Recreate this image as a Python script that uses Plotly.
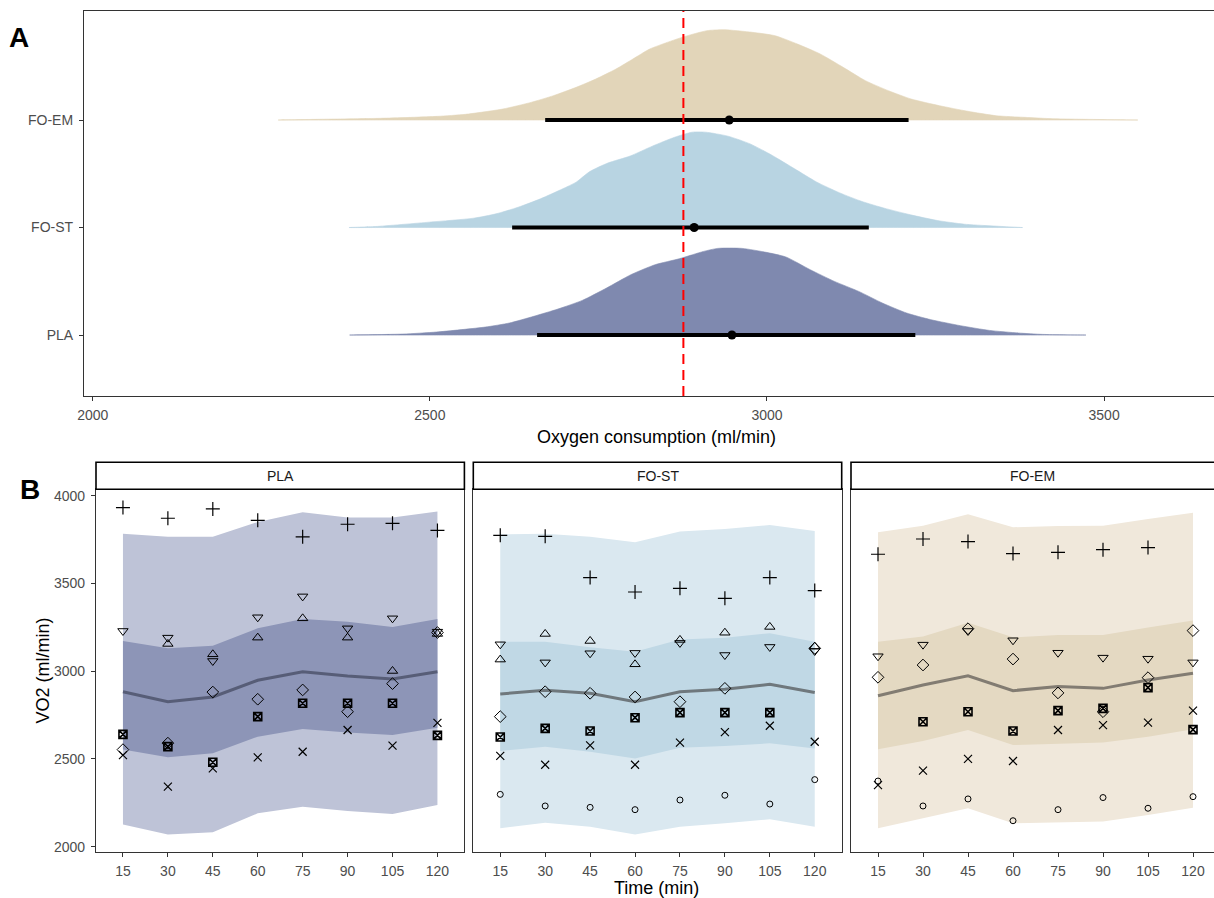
import plotly.graph_objects as go

W, H = 1214, 898

# ---------------- Panel A data (posterior densities) ----------------
groups = ["PLA", "FO-ST", "FO-EM"]
reference_line = 2876

dens_x_pla = [2381, 2460, 2510, 2582, 2618, 2654, 2690, 2726, 2762, 2798, 2834, 2870, 2906, 2927,
              2963, 2999, 3028, 3064, 3100, 3136, 3171, 3207, 3243, 3287, 3330, 3373, 3409, 3473]
dens_h_pla = [0, 0.009, 0.028, 0.074, 0.112, 0.174, 0.242, 0.322, 0.437, 0.561, 0.654, 0.710, 0.778, 0.806,
              0.806, 0.769, 0.726, 0.608, 0.499, 0.406, 0.298, 0.205, 0.143, 0.087, 0.043, 0.019, 0.006, 0]

dens_x_fost = [2380, 2419, 2499, 2565, 2598, 2631, 2664, 2697, 2717, 2737, 2764, 2797, 2830, 2863,
               2889, 2909, 2942, 2975, 3008, 3041, 3074, 3108, 3141, 3174, 3213, 3253, 3293, 3379]
dens_h_fost = [0, 0.009, 0.050, 0.087, 0.127, 0.189, 0.267, 0.360, 0.422, 0.520, 0.600, 0.665, 0.757, 0.840,
               0.887, 0.887, 0.850, 0.778, 0.670, 0.546, 0.422, 0.322, 0.242, 0.180, 0.118, 0.065, 0.031, 0]

dens_x_foem = [2275, 2427, 2511, 2553, 2608, 2650, 2683, 2717, 2746, 2776, 2801, 2826, 2852, 2877, 2911,
               2936, 2978, 3012, 3045, 3079, 3113, 3146, 3180, 3214, 3256, 3298, 3340, 3382, 3424, 3550]
dens_h_foem = [0, 0.016, 0.034, 0.053, 0.102, 0.164, 0.226, 0.304, 0.381, 0.474, 0.567, 0.660, 0.722, 0.775, 0.831,
               0.840, 0.816, 0.784, 0.707, 0.614, 0.490, 0.366, 0.273, 0.195, 0.133, 0.081, 0.040, 0.025, 0.012, 0]

point_est = [2948, 2892, 2944]          # PLA, FO-ST, FO-EM
ci_low = [2659, 2622, 2671]
ci_high = [3220, 3151, 3210]

# ---------------- Panel B data ----------------
times = ["15", "30", "45", "60", "75", "90", "105", "120"]

pla_outer_lo = [2127, 2070, 2082, 2190, 2228, 2203, 2186, 2237]
pla_outer_hi = [3783, 3765, 3765, 3850, 3905, 3875, 3875, 3909]
pla_inner_lo = [2553, 2509, 2532, 2627, 2670, 2651, 2636, 2678]
pla_inner_hi = [3172, 3130, 3145, 3244, 3297, 3282, 3252, 3297]
pla_mean = [2883, 2826, 2853, 2948, 2997, 2972, 2955, 2997]

fost_outer_lo = [2105, 2137, 2114, 2070, 2114, 2133, 2156, 2114]
fost_outer_hi = [3780, 3783, 3766, 3734, 3795, 3810, 3833, 3799]
fost_inner_lo = [2545, 2570, 2541, 2503, 2564, 2574, 2589, 2560]
fost_inner_hi = [3168, 3168, 3136, 3111, 3181, 3191, 3216, 3168]
fost_mean = [2870, 2891, 2874, 2826, 2883, 2897, 2925, 2878]

foem_outer_lo = [2105, 2162, 2219, 2133, 2139, 2143, 2180, 2222]
foem_outer_hi = [3791, 3829, 3894, 3820, 3827, 3829, 3867, 3903]
foem_inner_lo = [2555, 2602, 2665, 2579, 2587, 2593, 2627, 2669]
foem_inner_hi = [3168, 3197, 3276, 3193, 3206, 3206, 3248, 3288]
foem_mean = [2860, 2921, 2974, 2889, 2912, 2902, 2950, 2988]

# individual subjects (one list per subject / marker shape)
pla_plus = [3932, 3871, 3924, 3859, 3765, 3837, 3842, 3802]
pla_tri_down = [3229, 3191, 3058, 3307, 3426, 3244, 3301, 3225]
pla_tri_up = [None, 3155, 3096, 3191, 3301, 3191, 3001, 3212]
pla_diamond = [2553, 2590, 2881, 2840, 2893, 2769, 2929, 3220]
pla_square = [2640, 2570, 2481, 2741, 2817, 2817, 2817, 2634]
pla_cross = [2522, 2342, 2446, 2509, 2541, 2665, 2576, 2705]
pla_circle = [None] * 8

fost_plus = [3774, 3768, 3533, 3451, 3472, 3415, 3533, 3459]
fost_tri_down = [3153, 3050, 3102, 3104, 3161, 3092, 3138, 3115]
fost_tri_up = [3066, 3212, 3172, 3039, 3178, 3219, 3252, 3140]
fost_diamond = [2741, 2883, 2874, 2853, 2826, 2902, None, 3130]
fost_square = [2625, 2674, 2659, 2735, 2764, 2764, 2764, None]
fost_cross = [2517, 2467, 2577, 2467, 2593, 2653, 2689, 2598]
fost_circle = [2298, 2232, 2224, 2211, 2266, 2293, 2243, 2382]

foem_plus = [3666, 3753, 3738, 3670, 3677, 3692, 3704, None]
foem_tri_down = [3085, 3151, 3229, 3176, 3105, 3077, 3071, 3050]
foem_tri_up = [None] * 8
foem_diamond = [2965, 3035, 3242, 3069, 2876, 2769, 2963, 3231]
foem_square = [None, 2712, 2769, 2659, 2775, 2788, 2906, 2667]
foem_cross = [2351, 2433, 2500, 2488, 2665, 2693, 2707, 2775]
foem_circle = [2374, 2232, 2272, 2148, 2211, 2280, 2219, 2285]

# ---------------- styles ----------------
dens_colors = ["#7F89AF", "#B8D4E2", "#E2D5B9"]
outer_colors = ["#BEC3D7", "#DAE8F0", "#F0E8DB"]
inner_colors = ["#8D95B7", "#C0D8E5", "#E4D9C2"]
line_colors = ["#575D77", "#6F787D", "#827C72"]
FONT = "Liberation Sans, Arial, sans-serif"

fig = go.Figure()

# ---------- Panel A ----------
dens_x = [dens_x_pla, dens_x_fost, dens_x_foem]
dens_h = [dens_h_pla, dens_h_fost, dens_h_foem]
for i, g in enumerate(groups):
    xs = dens_x[i]
    ys = [i + h for h in dens_h[i]]
    fig.add_trace(go.Scatter(
        x=xs + xs[::-1], y=ys + [i] * len(xs), fill="toself", mode="lines",
        fillcolor=dens_colors[i], line=dict(color=dens_colors[i], width=0.6, shape="spline", smoothing=0.6),
        hoverinfo="skip", showlegend=False, xaxis="x", yaxis="y"))

for i, g in enumerate(groups):
    fig.add_trace(go.Scatter(
        x=[ci_low[i], ci_high[i]], y=[i, i], mode="lines",
        line=dict(color="black", width=4), showlegend=False, xaxis="x", yaxis="y"))
    fig.add_trace(go.Scatter(
        x=[point_est[i]], y=[i], mode="markers",
        marker=dict(color="black", size=9), showlegend=False, xaxis="x", yaxis="y"))

fig.add_shape(type="line", xref="x", yref="y domain", x0=reference_line, x1=reference_line,
              y0=0, y1=1, line=dict(color="#FF0000", width=2, dash="10px,6px"), layer="above")

# ---------- Panel B ----------
facet = [
    (pla_outer_lo, pla_outer_hi, pla_inner_lo, pla_inner_hi, pla_mean,
     [pla_circle, pla_tri_up, pla_plus, pla_cross, pla_diamond, pla_tri_down, pla_square]),
    (fost_outer_lo, fost_outer_hi, fost_inner_lo, fost_inner_hi, fost_mean,
     [fost_circle, fost_tri_up, fost_plus, fost_cross, fost_diamond, fost_tri_down, fost_square]),
    (foem_outer_lo, foem_outer_hi, foem_inner_lo, foem_inner_hi, foem_mean,
     [foem_circle, foem_tri_up, foem_plus, foem_cross, foem_diamond, foem_tri_down, foem_square]),
]
symbols = ["circle-open", "triangle-up-open", "cross-thin-open", "x-thin-open",
           "diamond-open", "triangle-down-open", "square-x-open"]
sizes = [6, 9, 10, 8, 9, 9, 8]
widths = [1, 1, 1.2, 1.2, 1, 1, 1.6]

for k, (olo, ohi, ilo, ihi, mn, subj) in enumerate(facet):
    xa, ya = "x%d" % (k + 2), "y%d" % (k + 2)
    fig.add_trace(go.Scatter(x=times + times[::-1], y=ohi + olo[::-1], fill="toself", mode="lines",
                             fillcolor=outer_colors[k], line=dict(width=0), hoverinfo="skip",
                             showlegend=False, xaxis=xa, yaxis=ya))
    fig.add_trace(go.Scatter(x=times + times[::-1], y=ihi + ilo[::-1], fill="toself", mode="lines",
                             fillcolor=inner_colors[k], line=dict(width=0), hoverinfo="skip",
                             showlegend=False, xaxis=xa, yaxis=ya))
    fig.add_trace(go.Scatter(x=times, y=mn, mode="lines", line=dict(color=line_colors[k], width=3),
                             showlegend=False, xaxis=xa, yaxis=ya))
    for s, vals in enumerate(subj):
        if all(v is None for v in vals):
            continue
        fig.add_trace(go.Scatter(x=times, y=vals, mode="markers",
                                 marker=dict(symbol=symbols[s], size=sizes[s], color="black",
                                             line=dict(color="black", width=widths[s])),
                                 showlegend=False, xaxis=xa, yaxis=ya))

# ---------- layout ----------
def px(x):
    return x / W


def py(y):
    return 1 - y / H


tickfont = dict(family=FONT, size=14, color="#4D4D4D")


def axis_common(mirror=True):
    return dict(showline=True, linecolor="#333333", linewidth=1.2, mirror=mirror, showgrid=False,
                zeroline=False, ticks="outside", ticklen=4, tickcolor="#333333", tickfont=tickfont,
                automargin=False)


layout = dict(
    width=W, height=H, margin=dict(l=0, r=0, t=0, b=0, autoexpand=False),
    paper_bgcolor="white", plot_bgcolor="white",
    font=dict(family=FONT),
    xaxis=dict(domain=[px(84), 1], range=[1987, 3663], tickvals=[2000, 2500, 3000, 3500],
               anchor="y", ticklabelstandoff=2, **axis_common(True)),
    yaxis=dict(domain=[py(396), py(11)], range=[-0.567, 3.014], tickvals=[0, 1, 2], ticktext=groups,
               anchor="x", ticklabelstandoff=3, **axis_common(False)),
)

b_dom_y = [py(851.7), py(489.3)]
x_doms = [[px(96), px(464.4)], [px(473.3), px(841.7)], [px(851), 1]]
x_ranges = [[-0.6, 7.6], [-0.6, 7.6], [-0.6, -0.6 + (W - 851) / 45.0]]
for k in range(3):
    n = k + 2
    layout["xaxis%d" % n] = dict(domain=x_doms[k], range=x_ranges[k], type="category",
                                 categoryorder="array", categoryarray=times, ticklabelstandoff=2,
                                 anchor="y%d" % n, **axis_common(True))
    yax = dict(domain=b_dom_y, range=[1971.5, 4036], tickvals=[2000, 2500, 3000, 3500, 4000],
               anchor="x%d" % n, ticklabelstandoff=3, **axis_common(k < 2))
    if k > 0:
        yax["showticklabels"] = False
        yax["ticks"] = ""
    layout["yaxis%d" % n] = yax

fig.update_layout(**layout)

# strips
for k, g in enumerate(groups):
    x1 = x_doms[k][1] if k < 2 else 1.01
    fig.add_shape(type="rect", xref="paper", yref="paper", x0=x_doms[k][0], x1=x1,
                  y0=py(489.3), y1=py(462.3), fillcolor="white", line=dict(color="black", width=1.6))
    fig.add_annotation(x=(x_doms[k][0] + x_doms[k][1]) / 2, y=py(476), xref="paper", yref="paper",
                       xanchor="center", yanchor="middle",
                       text=g, showarrow=False, font=dict(family=FONT, size=14, color="#1A1A1A"))

# titles and labels
title_font = dict(family=FONT, size=18, color="black")
fig.add_annotation(x=px(656), y=py(437), xref="paper", yref="paper", text="Oxygen consumption (ml/min)",
                   xanchor="center", yanchor="middle", showarrow=False, font=title_font)
fig.add_annotation(x=px(656), y=py(888), xref="paper", yref="paper", text="Time (min)",
                   xanchor="center", yanchor="middle", showarrow=False, font=title_font)
fig.add_annotation(x=px(42.5), y=py(671), xref="paper", yref="paper", text="VO2 (ml/min)", textangle=-90,
                   xanchor="center", yanchor="middle", showarrow=False, font=title_font)
fig.add_annotation(x=px(19), y=py(37), xref="paper", yref="paper", text="<b>A</b>",
                   xanchor="center", yanchor="middle", showarrow=False,
                   font=dict(family=FONT, size=28, color="black"))
fig.add_annotation(x=px(30), y=py(490), xref="paper", yref="paper", text="<b>B</b>",
                   xanchor="center", yanchor="middle", showarrow=False,
                   font=dict(family=FONT, size=28, color="black"))

fig.write_html("out.html")
